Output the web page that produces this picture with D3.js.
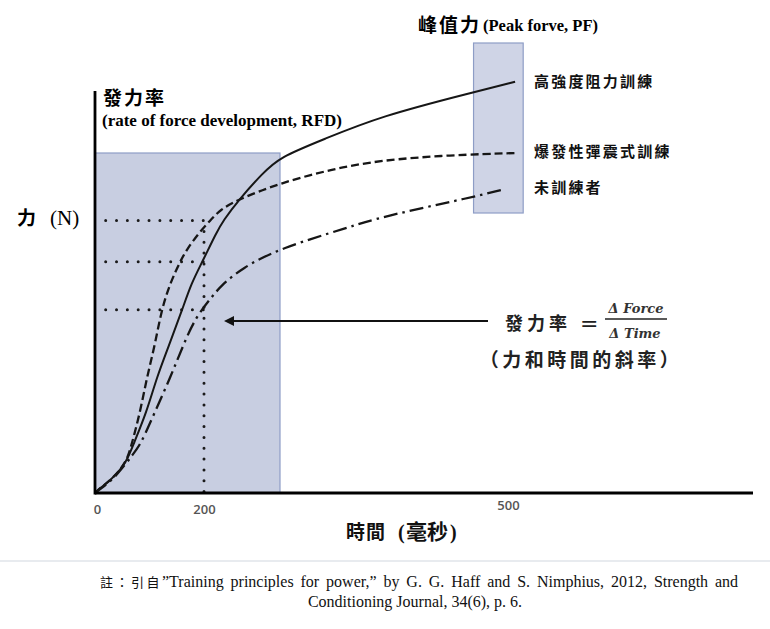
<!DOCTYPE html>
<html>
<head>
<meta charset="utf-8">
<script src="https://cdn.jsdelivr.net/npm/d3@7"></script>
<style>
  body { margin: 0; background: #fff; }
  .cjk { font-family: "Noto Sans CJK TC", "Noto Sans CJK SC", sans-serif; }
  .serif { font-family: "Liberation Serif", "DejaVu Serif", serif; }
</style>
</head>
<body>
<div id="chart"></div>
<script>
// time (ms) / force values
const timeTicks = [0, 200, 500];

const heavyResistance = [
    [0, 0], [9, 1.2], [34, 3.8], [58, 7.8], [70, 12], [95, 20.3], [113, 28.8],
    [136, 37], [160, 45.8], [177, 52.5], [197, 57.8], [212, 65], [219, 68.1],
    [234, 73.2], [258, 80], [275, 84], [317, 88.3], [374, 94.2], [466, 100.2], [507, 102.8]
];
const ballistic = [
    [0, 0], [9, 1.2], [34, 3.8], [58, 7.8], [67, 12], [83, 20.3], [95, 28.8],
    [110, 37], [122, 45.8], [138, 52.5], [156, 57.8], [168, 60.8], [190, 64.9],
    [206, 68.1], [216, 70.8], [232, 73.2], [275, 77.5], [327, 81], [374, 83.2],
    [443, 84.5], [509, 85]
];
const untrained = [
    [0, 0], [9, 1], [33, 3.2], [73, 10.2], [86, 12.8], [110, 20.3], [138, 28.8],
    [162, 37], [184, 43.8], [208, 49.1], [216, 51.6], [237, 56.2], [275, 61.2],
    [344, 66.5], [374, 69], [466, 74], [497, 76]
];

const seriesNames = ["高強度阻力訓練", "爆發性彈震式訓練", "未訓練者"];
const refLevels = [68.1, 57.8, 45.8];   // dotted force levels
const refTime = 200;
const guideStart = 19.6;
const rfdWindow = [0, 275, 85];         // t0, t1, force top
const pfWindow = [466, 515, 70, 112.5]; // t0, t1, force bottom, force top

const width = 770, height = 629;

const svg = d3.select("#chart").append("svg")
    .attr("width", width)
    .attr("height", height);

svg.append("rect").attr("width", width).attr("height", height).attr("fill", "#fff");

// piecewise scale, the original figure is schematic
let x = d3.scaleLinear().domain([0, 200, 500, 742]).range([95, 204, 508, 753]);
let y = d3.scaleLinear().domain([0, 100]).range([493, 93]);

// shaded windows
svg.append("rect")
    .attr("x", x(rfdWindow[0]))
    .attr("y", y(rfdWindow[2]))
    .attr("width", x(rfdWindow[1]) - x(rfdWindow[0]))
    .attr("height", y(0) - y(rfdWindow[2]))
    .attr("fill", "#c8cee1")
    .attr("stroke", "#8e9dc6")
    .attr("stroke-width", 1.2);

svg.append("rect")
    .attr("x", x(pfWindow[0]))
    .attr("y", y(pfWindow[3]))
    .attr("width", x(pfWindow[1]) - x(pfWindow[0]))
    .attr("height", y(pfWindow[2]) - y(pfWindow[3]))
    .attr("fill", "#cfd4e6")
    .attr("stroke", "#8e9dc6")
    .attr("stroke-width", 1.2);

// dotted guides
svg.selectAll(".guide")
    .data(refLevels)
    .enter()
    .append("line")
    .attr("class", "guide")
    .attr("x1", x(guideStart))
    .attr("x2", x(refTime) + 1)
    .attr("y1", d => y(d))
    .attr("y2", d => y(d))
    .attr("stroke", "#1a1a1a")
    .attr("stroke-width", 3)
    .attr("stroke-linecap", "round")
    .attr("stroke-dasharray", "0 10.84");

svg.append("line")
    .attr("x1", x(refTime)).attr("x2", x(refTime))
    .attr("y1", y(refLevels[0]) + 10.84).attr("y2", y(0))
    .attr("stroke", "#1a1a1a")
    .attr("stroke-width", 3)
    .attr("stroke-linecap", "round")
    .attr("stroke-dasharray", "0 10.84");

// curves
let line = d3.line()
    .x(d => x(d[0]))
    .y(d => y(d[1]))
    .curve(d3.curveBasis);

let styles = [
    {data: heavyResistance, dash: null, w: 2},
    {data: ballistic, dash: "8 4", w: 2.3},
    {data: untrained, dash: "14 5 2.5 5", w: 2.3}
];

svg.selectAll(".curve")
    .data(styles)
    .enter()
    .append("path")
    .attr("class", "curve")
    .attr("d", d => line(d.data))
    .attr("fill", "none")
    .attr("stroke", "#161616")
    .attr("stroke-width", d => d.w)
    .attr("stroke-dasharray", d => d.dash);

// axes
svg.append("line")
    .attr("x1", x.range()[0]).attr("x2", x.range()[3])
    .attr("y1", y(0)).attr("y2", y(0))
    .attr("stroke", "#000").attr("stroke-width", 2.8);

svg.append("line")
    .attr("x1", x(0)).attr("x2", x(0))
    .attr("y1", y(0) + 1.4).attr("y2", 91)
    .attr("stroke", "#000").attr("stroke-width", 2.8);

let xAxis = d3.axisBottom(x).tickValues(timeTicks).tickSize(0).tickPadding(12);
let gx = svg.append("g")
    .attr("transform", "translate(0," + y(0) + ")")
    .call(xAxis);
gx.select(".domain").remove();
gx.selectAll("text")
    .attr("font-family", "'Open Sans', sans-serif")
    .attr("font-size", 13)
    .attr("font-weight", 600)
    .attr("fill", "#555")
    .attr("dx", (d, i) => i === 0 ? 2 : 0)
    .attr("dy", (d, i) => i === 2 ? "0.4em" : "0.71em");

// series labels
let labelY = [82, 152, 188];
svg.selectAll(".label")
    .data(seriesNames)
    .enter()
    .append("text")
    .attr("class", "label cjk")
    .attr("x", 534)
    .attr("y", (d, i) => labelY[i])
    .attr("dy", "0.35em")
    .attr("font-size", 15)
    .attr("font-weight", "bold")
    .attr("letter-spacing", 2.2)
    .attr("fill", "#111")
    .text(d => d);

// axis titles
svg.append("text").attr("class", "cjk")
    .attr("x", 103).attr("y", 105)
    .attr("font-size", 19).attr("font-weight", "bold").attr("letter-spacing", 2)
    .text("發力率");
svg.append("text").attr("class", "serif")
    .attr("x", 102).attr("y", 126)
    .attr("font-size", 17).attr("font-weight", "bold")
    .text("(rate of force development, RFD)");

svg.append("text").attr("class", "cjk")
    .attr("x", 17).attr("y", 225)
    .attr("font-size", 19).attr("font-weight", "bold")
    .text("力");
svg.append("text").attr("class", "serif")
    .attr("x", 50).attr("y", 225)
    .attr("font-size", 21)
    .text("(N)");

svg.append("text").attr("class", "cjk")
    .attr("x", 418).attr("y", 32)
    .attr("font-size", 19).attr("font-weight", "bold").attr("letter-spacing", 2)
    .text("峰值力");
svg.append("text").attr("class", "serif")
    .attr("x", 483).attr("y", 31)
    .attr("font-size", 16.5).attr("font-weight", "bold")
    .text("(Peak forve, PF)");

// x title: 時間 (毫秒)
let xTitle = [
    {t: "時間", x: 346, cls: "cjk", size: 19, ls: 1},
    {t: "(", x: 398, cls: "serif", size: 20, ls: 0},
    {t: "毫秒", x: 406, cls: "cjk", size: 21, ls: 0},
    {t: ")", x: 450, cls: "serif", size: 20, ls: 0}
];
svg.selectAll(".xtitle")
    .data(xTitle)
    .enter()
    .append("text")
    .attr("class", d => "xtitle " + d.cls)
    .attr("x", d => d.x)
    .attr("y", 539)
    .attr("font-size", d => d.size)
    .attr("font-weight", "bold")
    .attr("letter-spacing", d => d.ls)
    .attr("fill", "#111")
    .text(d => d.t);

// arrow annotation
svg.append("defs").append("marker")
    .attr("id", "arrowhead")
    .attr("viewBox", "0 0 10 10")
    .attr("refX", 2).attr("refY", 5)
    .attr("markerWidth", 5).attr("markerHeight", 5)
    .attr("orient", "auto-start-reverse")
    .append("path")
    .attr("d", "M0,0 L10,5 L0,10 z")
    .attr("fill", "#111");

svg.append("line")
    .attr("x1", 488).attr("x2", 232)
    .attr("y1", 321).attr("y2", 321)
    .attr("stroke", "#111").attr("stroke-width", 2)
    .attr("marker-end", "url(#arrowhead)");

// formula
svg.append("text").attr("class", "cjk")
    .attr("x", 505).attr("y", 330)
    .attr("font-size", 18).attr("font-weight", "bold").attr("letter-spacing", 4)
    .attr("fill", "#222")
    .text("發力率");
svg.append("text")
    .attr("x", 580).attr("y", 331)
    .attr("font-family", "'DejaVu Sans', sans-serif")
    .attr("font-size", 22).attr("fill", "#222")
    .text("=");
svg.append("line")
    .attr("x1", 605).attr("x2", 667)
    .attr("y1", 319).attr("y2", 319)
    .attr("stroke", "#222").attr("stroke-width", 1.6);
svg.append("text")
    .attr("x", 636).attr("y", 313)
    .attr("text-anchor", "middle")
    .attr("font-family", "'DejaVu Serif', serif")
    .attr("font-size", 13).attr("font-weight", "bold").attr("font-style", "italic")
    .attr("fill", "#333")
    .text("Δ Force");
svg.append("text")
    .attr("x", 635).attr("y", 338)
    .attr("text-anchor", "middle")
    .attr("font-family", "'DejaVu Serif', serif")
    .attr("font-size", 13).attr("font-weight", "bold").attr("font-style", "italic")
    .attr("fill", "#333")
    .text("Δ Time");
svg.append("text").attr("class", "cjk")
    .attr("x", 581).attr("y", 367)
    .attr("text-anchor", "middle")
    .attr("font-size", 19).attr("font-weight", "bold").attr("letter-spacing", 3.5)
    .attr("fill", "#222")
    .text("（力和時間的斜率）");

// separator and note
svg.append("line")
    .attr("x1", 0).attr("x2", width)
    .attr("y1", 561).attr("y2", 561)
    .attr("stroke", "#e1e5ea").attr("stroke-width", 1.5);

svg.append("text")
    .attr("x", 100).attr("y", 587)
    .attr("font-size", 16)
    .attr("fill", "#111")
    .call(t => {
        t.append("tspan").attr("class", "cjk").attr("font-size", 13).attr("letter-spacing", 2.5).text("註：引自");
        t.append("tspan").attr("class", "serif").attr("word-spacing", 2.9)
            .text("\u201DTraining principles for power,\u201D by G. G. Haff and S. Nimphius, 2012, Strength and");
    });
svg.append("text").attr("class", "serif")
    .attr("x", 415).attr("y", 607)
    .attr("text-anchor", "middle")
    .attr("font-size", 16)
    .attr("fill", "#111")
    .text("Conditioning Journal, 34(6), p. 6.");
</script>
</body>
</html>
